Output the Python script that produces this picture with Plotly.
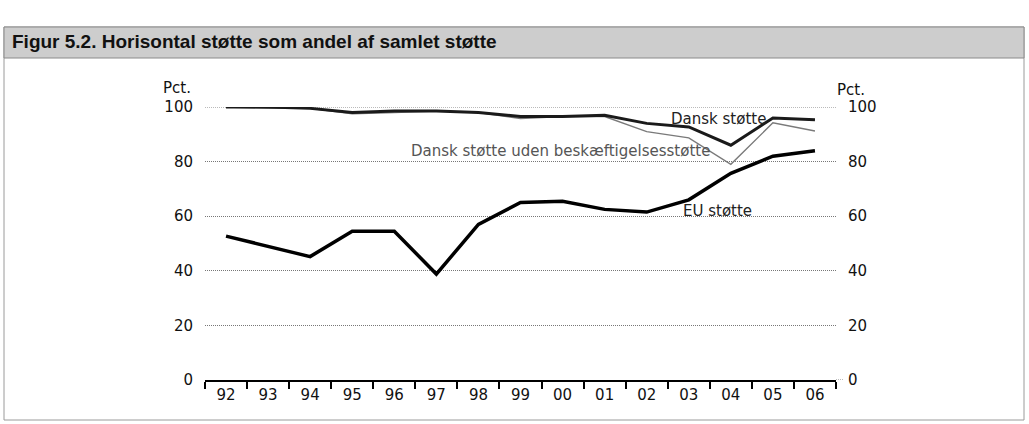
import plotly.graph_objects as go

years = ["92", "93", "94", "95", "96", "97", "98", "99", "00", "01", "02", "03", "04", "05", "06"]
dansk = [100, 100, 99.5, 98, 98.5, 98.5, 98, 96.5, 96.5, 97, 94, 92.7, 86, 96, 95.3]
dansk_uden = [100, 99.5, 99.5, 97.5, 98, 98.5, 98, 95.8, 96.5, 96.5, 91, 88.7, 79, 94.2, 91.2]
eu = [52.7, 49, 45.2, 54.5, 54.5, 38.8, 57, 65, 65.5, 62.5, 61.5, 66, 75.7, 82, 84]
yticks = [0, 20, 40, 60, 80, 100]

L, R, T, B = 205, 836, 107, 380
W, H = 1029, 424


def px(x):
    return (x - L) / (R - L)


def py(y):
    return (B - y) / (B - T)


fig = go.Figure()
fig.add_trace(go.Scatter(x=years, y=dansk_uden, mode="lines", line=dict(color="#7a7a7a", width=1.4),
                         showlegend=False, cliponaxis=False))
fig.add_trace(go.Scatter(x=years, y=dansk, mode="lines", line=dict(color="#1a1a1a", width=3),
                         showlegend=False, cliponaxis=False))
fig.add_trace(go.Scatter(x=years, y=eu, mode="lines", line=dict(color="#000000", width=3.5),
                         showlegend=False, cliponaxis=False))
fig.add_trace(go.Scatter(x=years, y=eu, mode="lines", line=dict(width=0), yaxis="y2",
                         showlegend=False, hoverinfo="skip"))

font_ax = dict(family="DejaVu Sans", size=15, color="#111")

fig.update_layout(
    width=W, height=H,
    margin=dict(l=L, r=W - R, t=T, b=H - B),
    paper_bgcolor="white", plot_bgcolor="white",
    xaxis=dict(type="category", range=[-0.5, 14.5], showgrid=False, showline=True, linecolor="#000",
               linewidth=2, ticks="outside", tickson="boundaries", ticklen=7, tickwidth=1.5,
               tickcolor="#000", tickfont=font_ax, zeroline=False),
    yaxis=dict(range=[0, 100], tickvals=yticks, showgrid=True, gridcolor="#777", griddash="1px,1px",
               gridwidth=1, zeroline=False, tickfont=font_ax, ticks="", ticklabelstandoff=11),
    yaxis2=dict(range=[0, 100], tickvals=yticks, overlaying="y", side="right", showgrid=False,
                zeroline=False, tickfont=font_ax, ticks="", ticklabelstandoff=11),
)

shapes = [
    dict(type="rect", xref="paper", yref="paper", x0=px(4), x1=px(1024), y0=py(420), y1=py(27),
         line=dict(color="#9a9a9a", width=1), fillcolor="rgba(0,0,0,0)", layer="below"),
    dict(type="rect", xref="paper", yref="paper", x0=px(4), x1=px(1024), y0=py(58), y1=py(27),
         line=dict(color="#8a8a8a", width=1), fillcolor="#cdcdcd", layer="below"),
    dict(type="line", xref="paper", yref="y", x0=1, x1=px(843), y0=0, y1=0,
         line=dict(color="#777", width=1, dash="1px,1px")),
    dict(type="line", xref="paper", yref="y", x0=0, x1=1, y0=100, y1=100, layer="below",
         line=dict(color="#777", width=1, dash="1px,1px")),
]
fig.update_layout(shapes=shapes)

ann = [
    dict(text="<b>Figur 5.2. Horisontal støtte som andel af samlet støtte</b>", x=px(10), y=py(42),
         xanchor="left", yanchor="middle", font=dict(family="Liberation Sans", size=19, color="#111")),
    dict(text="Pct.", x=px(177), y=py(88), xanchor="center", yanchor="middle", font=font_ax),
    dict(text="Pct.", x=px(851), y=py(90), xanchor="center", yanchor="middle", font=font_ax),
    dict(text="Dansk støtte", x=px(718), y=py(119), xanchor="center", yanchor="middle",
         font=dict(family="DejaVu Sans", size=15, color="#222")),
    dict(text="Dansk støtte uden beskæftigelsesstøtte", x=px(560), y=py(151), xanchor="center",
         yanchor="middle", font=dict(family="DejaVu Sans", size=15, color="#555")),
    dict(text="EU støtte", x=px(717), y=py(211), xanchor="center", yanchor="middle",
         font=dict(family="DejaVu Sans", size=15, color="#222")),
]
for a in ann:
    a.update(xref="paper", yref="paper", showarrow=False)
fig.update_layout(annotations=ann)

fig.write_html("out.html", config={"displayModeBar": False},
               post_script="document.body.style.margin='0';")
